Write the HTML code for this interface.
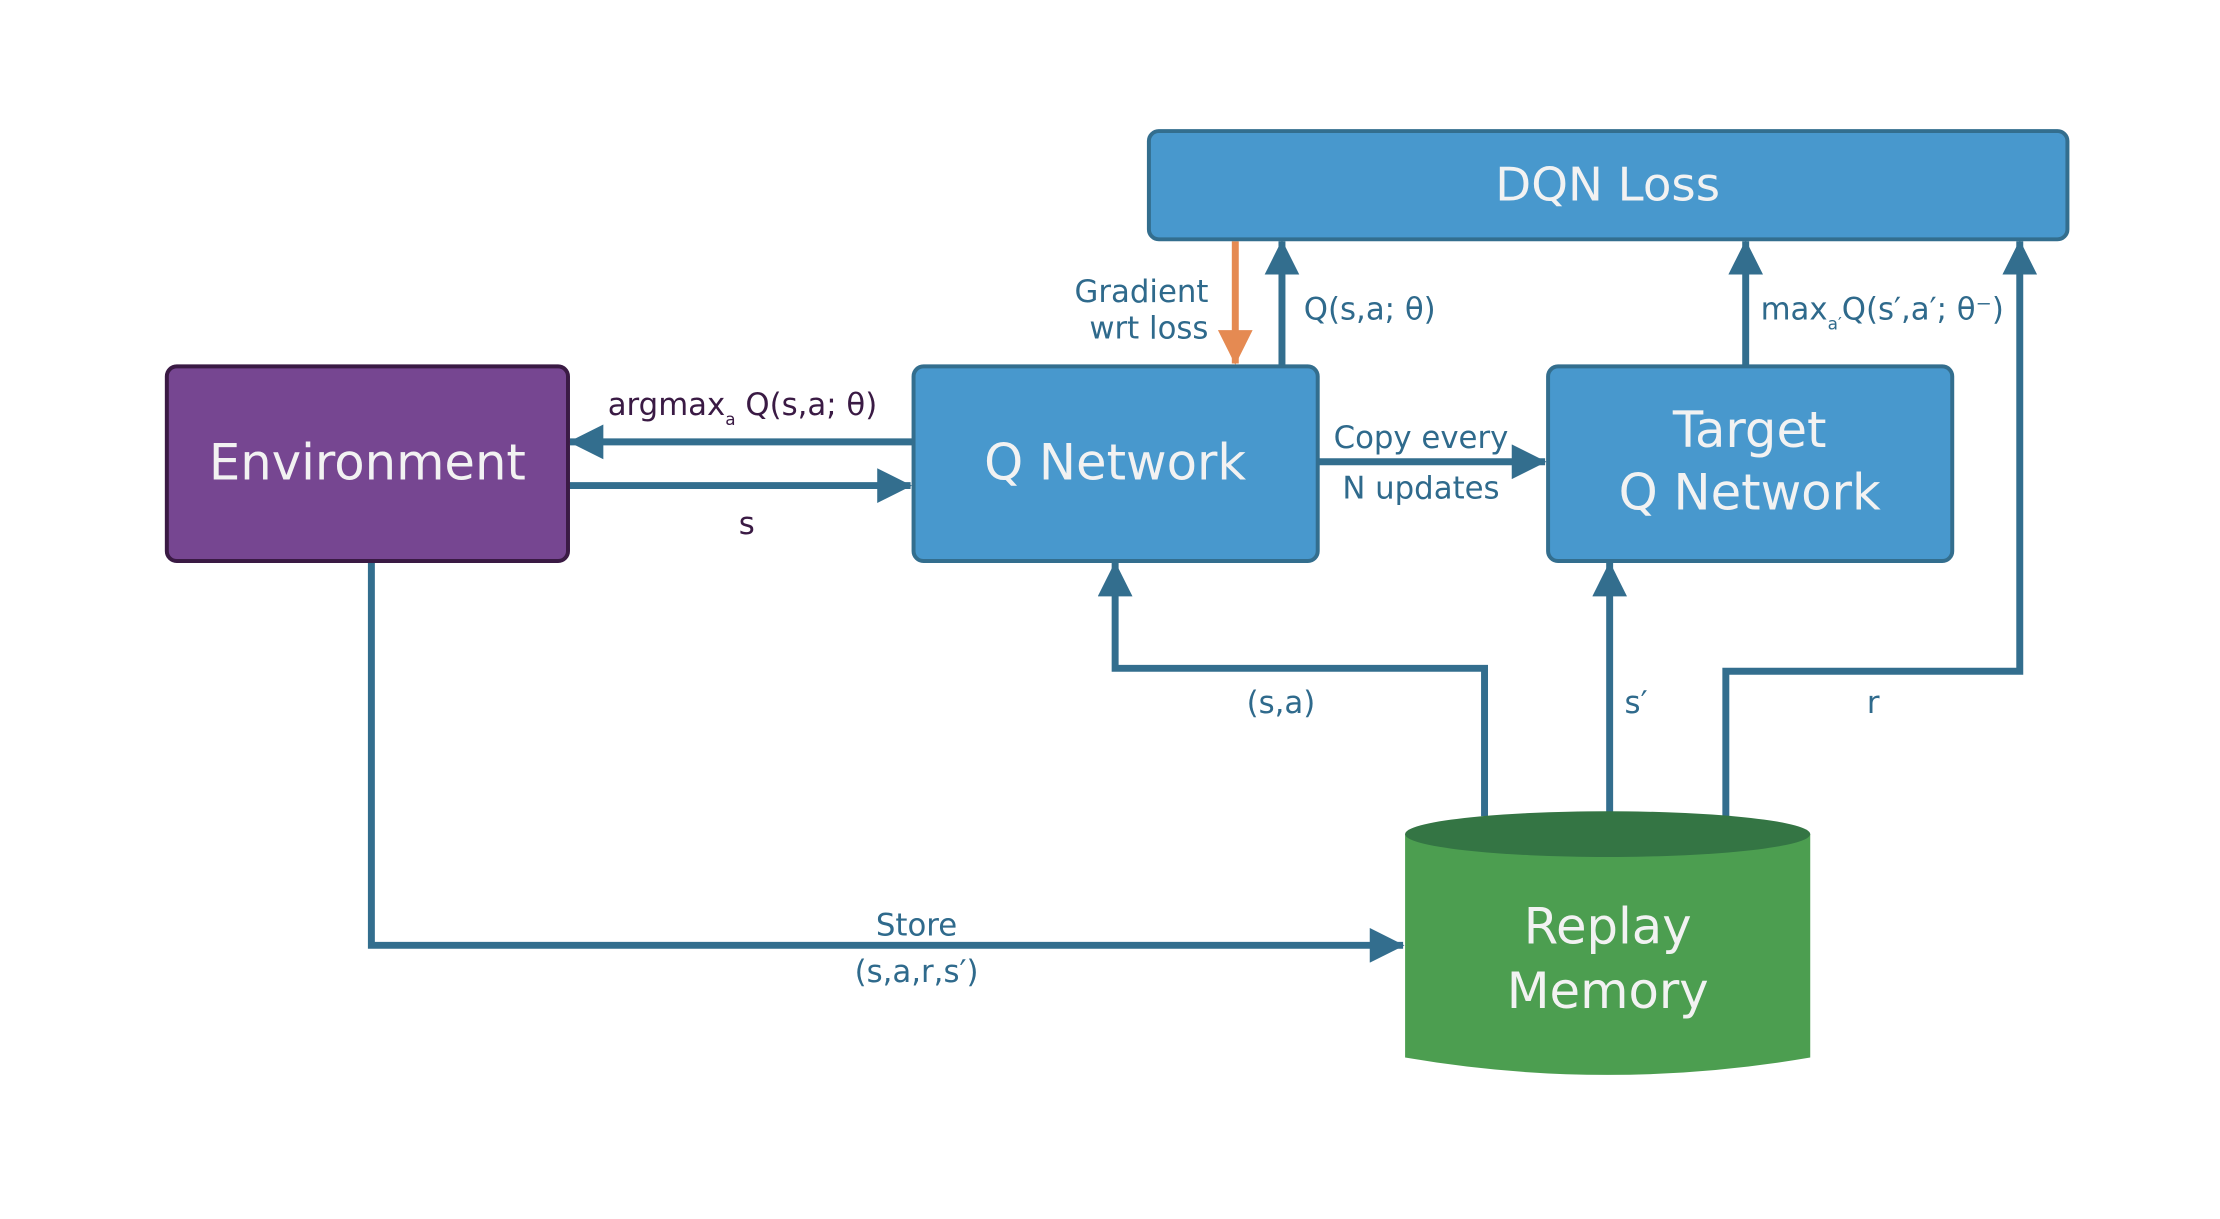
<!DOCTYPE html>
<html><head><meta charset="utf-8"><style>
html,body{margin:0;padding:0;background:#fff}
svg text{font-family:"DejaVu Sans","Liberation Sans",sans-serif}
</style></head><body>
<svg width="2220" height="1214" viewBox="0 0 2220 1214" xmlns="http://www.w3.org/2000/svg">
<defs>
<marker id="a" markerWidth="5" markerHeight="5" refX="4.8" refY="2.5" orient="auto" markerUnits="strokeWidth"><path d="M0,0 L5,2.5 L0,5 z" fill="#336e8e"/></marker>
<marker id="o" markerWidth="5" markerHeight="5" refX="4.8" refY="2.5" orient="auto" markerUnits="strokeWidth"><path d="M0,0 L5,2.5 L0,5 z" fill="#e58a52"/></marker>
</defs>
<g transform="scale(0.993)">
<g fill="none" stroke="#336e8e" stroke-width="7">
<polyline points="374,565 374,952 1413,952" marker-end="url(#a)"/>
<line x1="919" y1="445" x2="574" y2="445" marker-end="url(#a)"/>
<line x1="572" y1="489" x2="917" y2="489" marker-end="url(#a)"/>
<line x1="1327" y1="465" x2="1556" y2="465" marker-end="url(#a)"/>
<line x1="1291" y1="368" x2="1291" y2="243" marker-end="url(#a)"/>
<line x1="1758" y1="368" x2="1758" y2="243" marker-end="url(#a)"/>
<polyline points="1495,822 1495,673 1123,673 1123,567" marker-end="url(#a)"/>
<line x1="1621" y1="820" x2="1621" y2="567" marker-end="url(#a)"/>
<polyline points="1738,822 1738,676 2034,676 2034,243" marker-end="url(#a)"/>
</g>
<line x1="1244" y1="243" x2="1244" y2="366" stroke="#e58a52" stroke-width="7" marker-end="url(#o)"/>
<rect x="1157" y="132" width="925" height="109" rx="10" fill="#4898cd" stroke="#336e8e" stroke-width="4"/>
<rect x="168" y="369" width="404" height="196" rx="10" fill="#764691" stroke="#3a1a44" stroke-width="4"/>
<rect x="920" y="369" width="407" height="196" rx="10" fill="#4898cd" stroke="#336e8e" stroke-width="4"/>
<rect x="1559" y="369" width="407" height="196" rx="10" fill="#4898cd" stroke="#336e8e" stroke-width="4"/>
<path d="M1415,840 L1415,1065 Q1619,1100 1823,1065 L1823,840 Z" fill="#4c9e50"/>
<ellipse cx="1619" cy="840" rx="204" ry="23" fill="#347544"/>
<g fill="#f2f2f2" text-anchor="middle">
<text x="1619" y="202" font-size="47">DQN Loss</text>
<text x="370" y="483" font-size="50">Environment</text>
<text x="1123" y="483" font-size="50">Q Network</text>
<text x="1762" y="450" font-size="50">Target</text>
<text x="1762" y="513" font-size="50">Q Network</text>
<text x="1619" y="950" font-size="50">Replay</text>
<text x="1619" y="1015" font-size="50">Memory</text>
</g>
<g font-size="31" fill="#3a1a44">
<text x="612" y="418">argmax<tspan font-size="17" dy="10">a</tspan><tspan dy="-10"> Q(s,a; θ)</tspan></text>
<text x="752" y="538" text-anchor="middle">s</text>
</g>
<g font-size="31" fill="#2f6a8c">
<text x="1217" y="304" text-anchor="end">Gradient</text>
<text x="1217" y="341" text-anchor="end">wrt loss</text>
<text x="1313" y="322">Q(s,a; θ)</text>
<text x="1773" y="322">max<tspan font-size="17" dy="10">a′</tspan><tspan dy="-10">Q(s′,a′; θ⁻)</tspan></text>
<text x="1431" y="451" text-anchor="middle">Copy every</text>
<text x="1431" y="502" text-anchor="middle">N updates</text>
<text x="1290" y="718" text-anchor="middle">(s,a)</text>
<text x="1636" y="718">s′</text>
<text x="1880" y="718">r</text>
<text x="923" y="942" text-anchor="middle">Store</text>
<text x="923" y="989" text-anchor="middle">(s,a,r,s′)</text>
</g>
</g>
</svg>
</body></html>
